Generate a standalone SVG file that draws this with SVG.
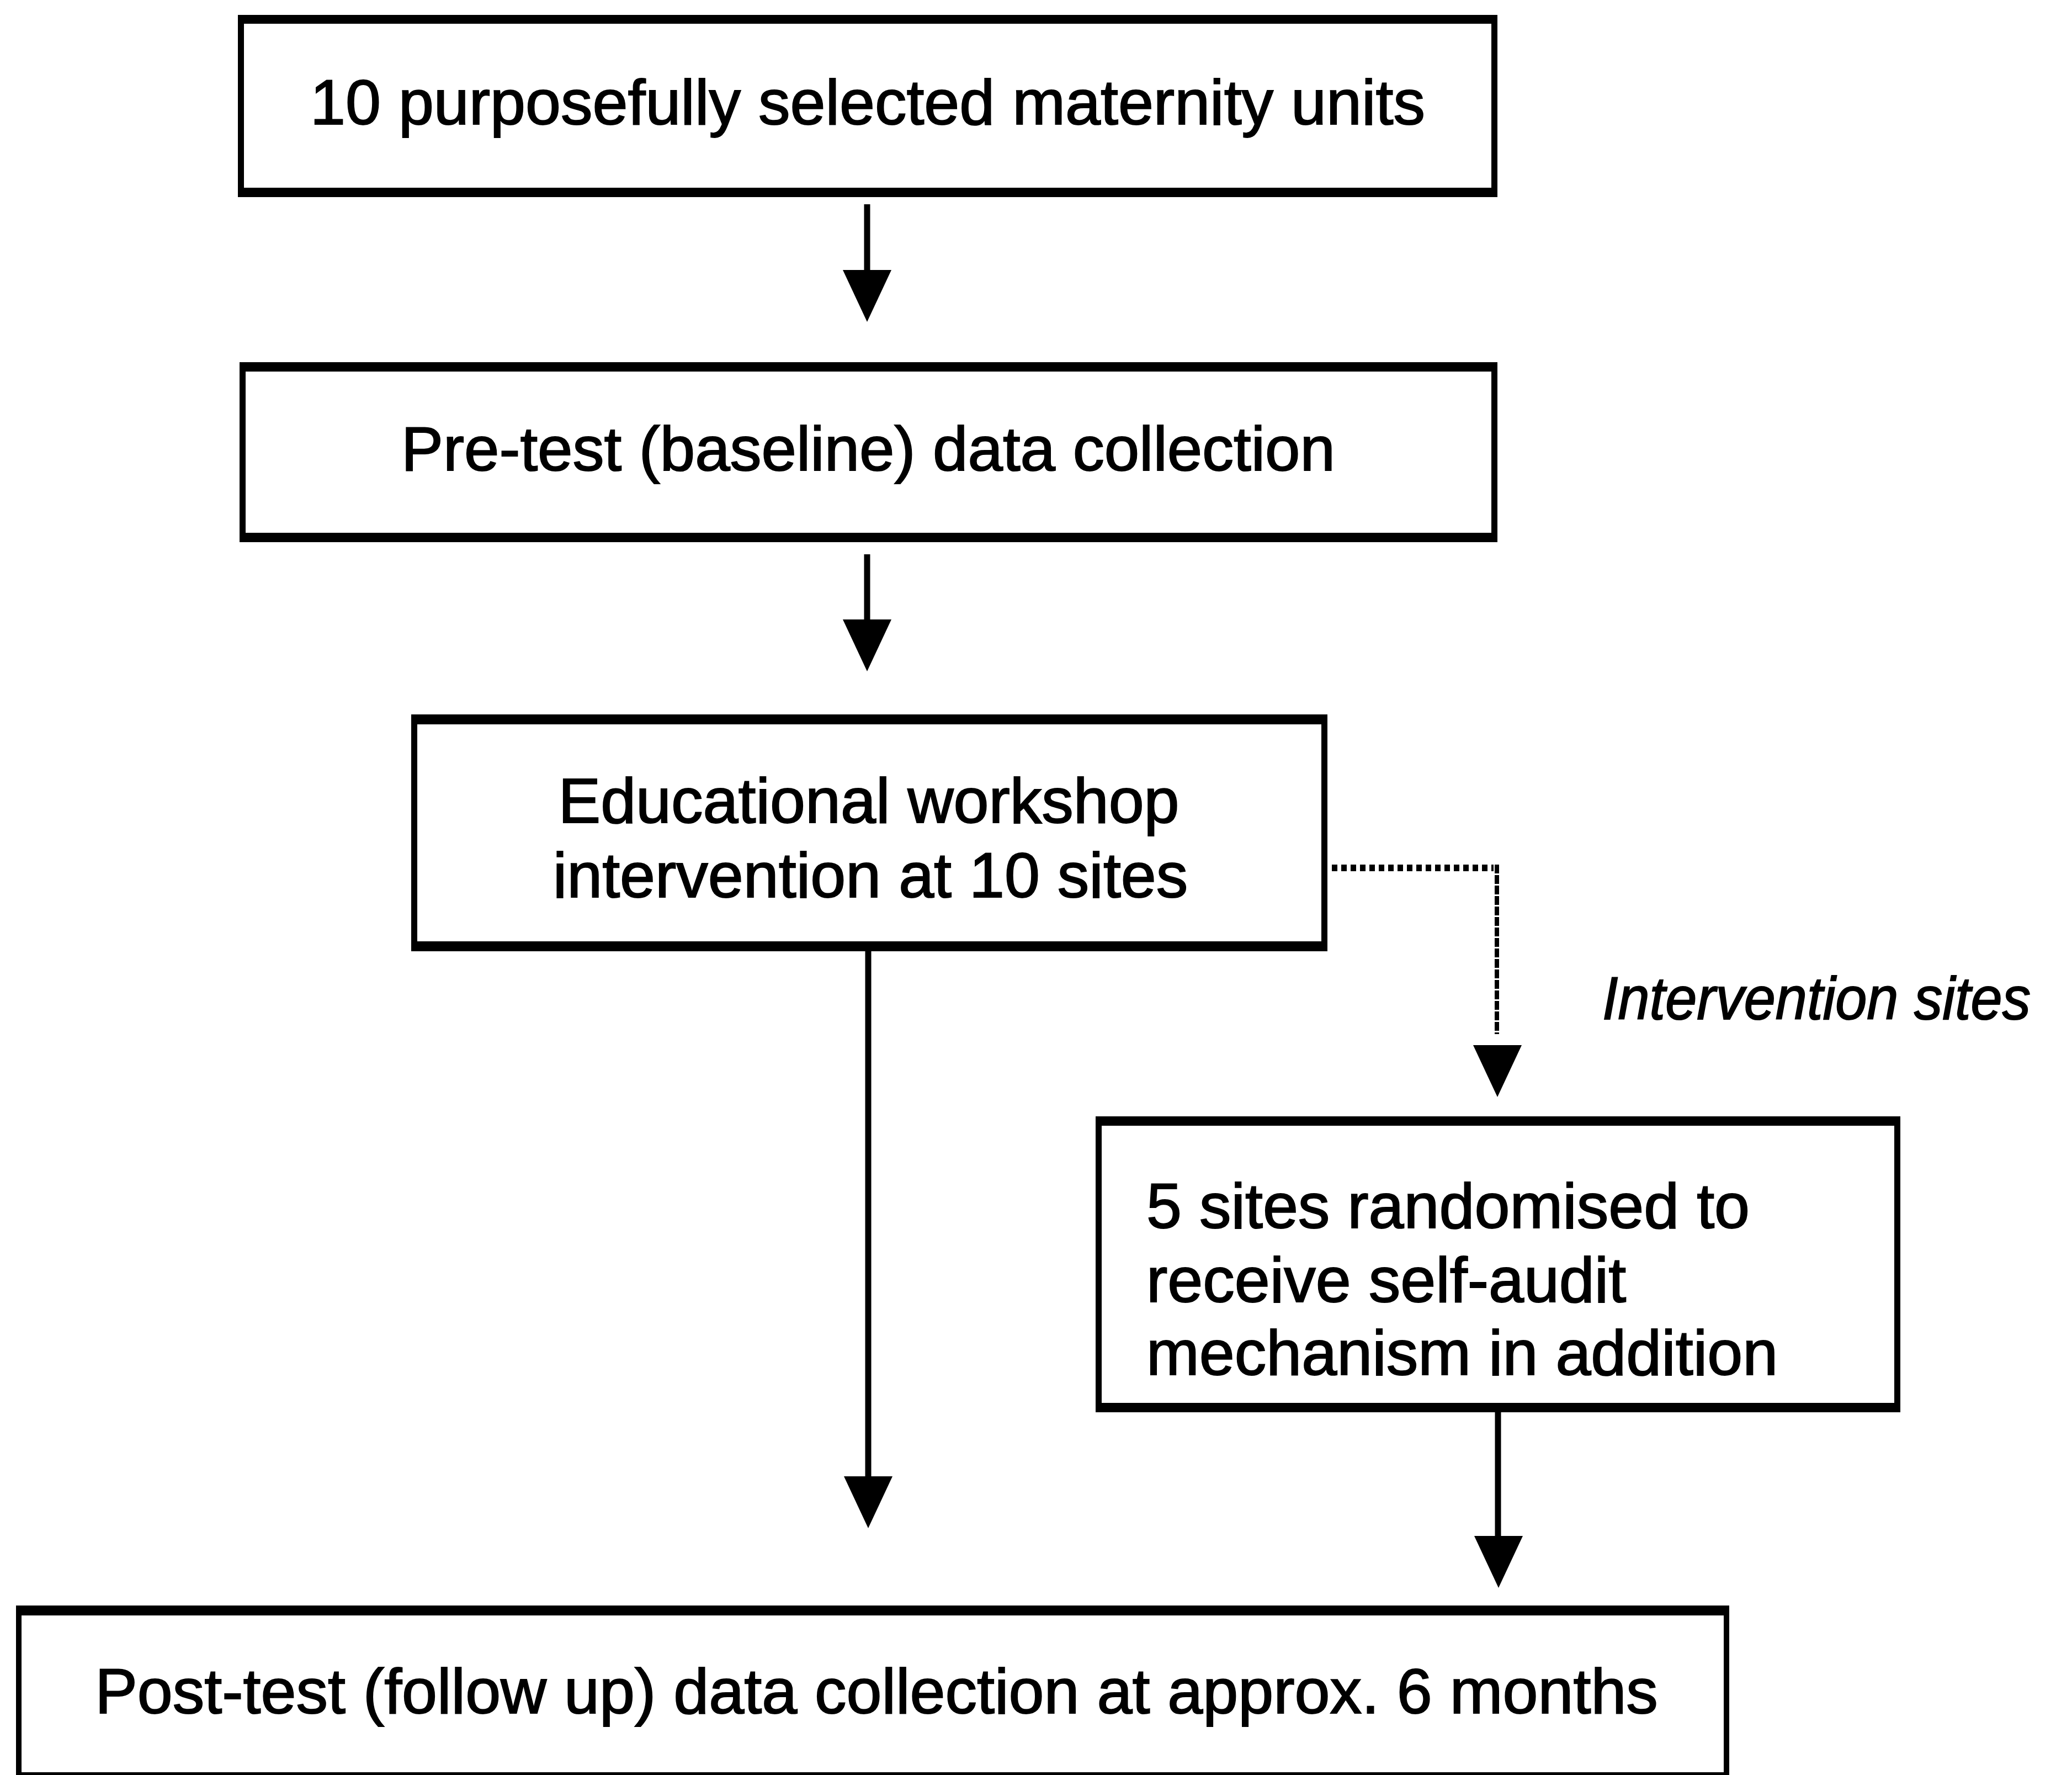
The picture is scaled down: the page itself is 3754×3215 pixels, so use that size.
<svg xmlns="http://www.w3.org/2000/svg" width="3754" height="3215" viewBox="0 0 3754 3215">
  <style>
    .frame { fill: #000; }
    .inner { fill: #fff; }
    .label { font-family: "Liberation Sans", Arial, Helvetica, sans-serif; font-size: 115px; fill: #000; stroke: #000; stroke-width: 2; }
    .mid { text-anchor: middle; }
    .note { font-style: italic; font-size: 110px; }
    .shaft { stroke: #000; stroke-width: 11; fill: none; }
    .dots { stroke: #000; fill: none; }
    .head { fill: #000; }
  </style>
  <defs>
    <!-- arrowhead: tip at (0,0), pointing down -->
    <path id="arrowhead" d="M-44,-94 L44,-94 L0,0 Z"/>
  </defs>

  <rect width="3754" height="3215" fill="#fff"/>

  <!-- boxes: thick top/bottom rules, thinner sides -->
  <g id="units">
    <rect class="frame" x="431" y="27" width="2282" height="330"/>
    <rect class="inner" x="442" y="43" width="2260" height="297"/>
    <text class="label mid" x="1572" y="225">10 purposefully selected maternity units</text>
  </g>

  <g id="pretest">
    <rect class="frame" x="434" y="656" width="2279" height="326"/>
    <rect class="inner" x="445" y="673" width="2257" height="292"/>
    <text class="label mid" x="1573" y="852" style="font-size:114px">Pre-test (baseline) data collection</text>
  </g>

  <g id="workshop">
    <rect class="frame" x="745" y="1294" width="1660" height="429"/>
    <rect class="inner" x="756" y="1312" width="1638" height="393"/>
    <text class="label mid" x="1574" y="1490">Educational workshop</text>
    <text class="label mid" x="1577" y="1625">intervention at 10 sites</text>
  </g>

  <g id="selfaudit">
    <rect class="frame" x="1985" y="2022" width="1458" height="536"/>
    <rect class="inner" x="1996" y="2039" width="1436" height="502"/>
    <text class="label" x="2077" y="2224">5 sites randomised to</text>
    <text class="label" x="2077" y="2358">receive self-audit</text>
    <text class="label" x="2077" y="2490">mechanism in addition</text>
  </g>

  <g id="posttest">
    <rect class="frame" x="29" y="2908" width="3104" height="330"/>
    <rect class="inner" x="39" y="2926" width="3084" height="284"/>
    <text class="label mid" x="1588" y="3103">Post-test (follow up) data collection at approx. 6 months</text>
  </g>

  <g id="intervention-sites-label">
    <text class="label note" x="2903" y="1846" textLength="776" lengthAdjust="spacingAndGlyphs">Intervention sites</text>
  </g>

  <!-- connectors -->
  <g id="connectors">
    <line class="shaft" x1="1571" y1="370" x2="1571" y2="500"/>
    <use href="#arrowhead" class="head" x="1571" y="583"/>

    <line class="shaft" x1="1571" y1="1004" x2="1571" y2="1130"/>
    <use href="#arrowhead" class="head" x="1571" y="1216"/>

    <line class="shaft" x1="1573" y1="1723" x2="1573" y2="2690"/>
    <use href="#arrowhead" class="head" x="1573" y="2768"/>

    <path class="dots" d="M2413,1572 H2706" stroke-width="12" stroke-dasharray="10 7"/>
    <path class="dots" d="M2712,1566 V1873" stroke-width="8" stroke-dasharray="16 3"/>
    <use href="#arrowhead" class="head" x="2713" y="1987"/>

    <line class="shaft" x1="2714" y1="2557" x2="2714" y2="2790"/>
    <use href="#arrowhead" class="head" x="2715" y="2876"/>
  </g>
</svg>
